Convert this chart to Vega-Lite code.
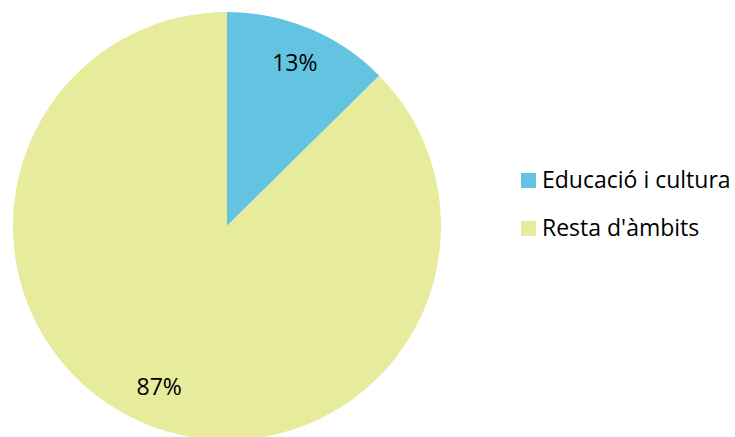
{
  "$schema": "https://vega.github.io/schema/vega-lite/v6.json",
  "width": 454,
  "height": 452,
  "autosize": {"type": "none"},
  "padding": {"left": 0, "top": 0, "right": 281, "bottom": 0},
  "background": "white",
  "config": {"view": {"stroke": null}, "font": "Open Sans"},
  "data": {"values": [
    {"ambit": "Educació i cultura", "valor": 12.6, "etiqueta": "13%", "ordre": 1},
    {"ambit": "Resta d'àmbits", "valor": 87.4, "etiqueta": "87%", "ordre": 2}
  ]},
  "encoding": {
    "theta": {"field": "valor", "type": "quantitative", "stack": true},
    "order": {"field": "ordre", "type": "quantitative"}
  },
  "layer": [
    {
      "mark": {"type": "arc", "outerRadius": 214, "stroke": null},
      "encoding": {
        "color": {
          "field": "ambit", "type": "nominal",
          "scale": {"domain": ["Educació i cultura", "Resta d'àmbits"], "range": ["#63C4E2", "#E6EC9B"]},
          "legend": {
            "title": null, "orient": "none", "legendX": 517, "legendY": 169,
            "symbolType": "square", "symbolSize": 225, "symbolStrokeWidth": 0,
            "labelFont": "Open Sans", "labelFontSize": 23, "labelColor": "#000000",
            "labelLimit": 0, "labelOffset": 2, "rowPadding": 24, "padding": 0
          }
        }
      }
    },
    {
      "mark": {"type": "text", "radius": 176, "font": "Open Sans", "fontSize": 23, "color": "#000000"},
      "encoding": {"text": {"field": "etiqueta", "type": "nominal"}}
    }
  ]
}
